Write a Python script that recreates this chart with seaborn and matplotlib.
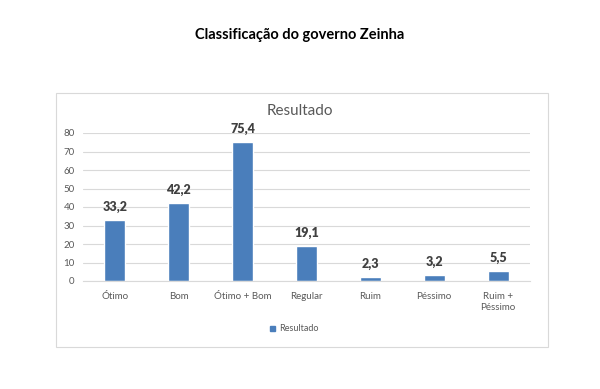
import matplotlib
matplotlib.use("Agg")
from matplotlib import pyplot as plt
from matplotlib.patches import Rectangle
import seaborn as sns
import pandas as pd

# chart data
categories = ['Ótimo', 'Bom', 'Ótimo + Bom', 'Regular', 'Ruim', 'Péssimo', 'Ruim +\nPéssimo']
values = [33.2, 42.2, 75.4, 19.1, 2.3, 3.2, 5.5]
value_labels = ['33,2', '42,2', '75,4', '19,1', '2,3', '3,2', '5,5']
y_ticks = [0, 10, 20, 30, 40, 50, 60, 70, 80]

sns.set_style("white")
plt.rcParams['font.family'] = ['Lato', 'DejaVu Sans']

bar_color = '#4a7ebb'
df = pd.DataFrame({'Categoria': categories, 'Resultado': values})

fig = plt.figure(figsize=(6, 3.89), dpi=100)

# outer chart frame
fig.patches.append(Rectangle((56 / 600, 1 - 347 / 389), 492 / 600, 254 / 389,
                             transform=fig.transFigure, fill=False,
                             edgecolor='#d9d9d9', linewidth=0.8))

fig.text(0.5, 1 - 35 / 389, 'Classificação do governo Zeinha', ha='center', va='center',
         fontsize=10.5, fontweight='bold', color='black')
fig.text(0.5, 1 - 111 / 389, 'Resultado', ha='center', va='center',
         fontsize=11, color='#595959')

ax = fig.add_axes([83 / 600, 108 / 389, 447 / 600, 148 / 389])
sns.barplot(data=df, x='Categoria', y='Resultado', color=bar_color, width=0.33,
            saturation=1, ax=ax)

for i, (v, lab) in enumerate(zip(values, value_labels)):
    ax.annotate(lab, (i, v), xytext=(0, 5), textcoords='offset points',
                ha='center', va='bottom', fontsize=9, fontweight='heavy', color='#404040')

ax.set_ylim(0, 80)
ax.set_yticks(y_ticks)
ax.set_xlim(-0.5, len(categories) - 0.5)
ax.yaxis.grid(True, color='#d9d9d9', linewidth=0.8)
ax.set_axisbelow(True)
for s in ['top', 'right', 'left']:
    ax.spines[s].set_visible(False)
ax.spines['bottom'].set_color('#d9d9d9')
ax.tick_params(axis='y', length=0, labelsize=7, colors='#595959', pad=6)
ax.tick_params(axis='x', length=0, labelsize=7, colors='#595959', pad=8)
ax.set_xlabel('')
ax.set_ylabel('')

# legend
fig.patches.append(Rectangle((270 / 600, 1 - 331 / 389), 5 / 600, 5 / 389,
                             transform=fig.transFigure, color=bar_color))
fig.text(279 / 600, 1 - 328.5 / 389, 'Resultado', ha='left', va='center',
         fontsize=6.5, color='#595959')

plt.savefig('out.png', dpi=100)
